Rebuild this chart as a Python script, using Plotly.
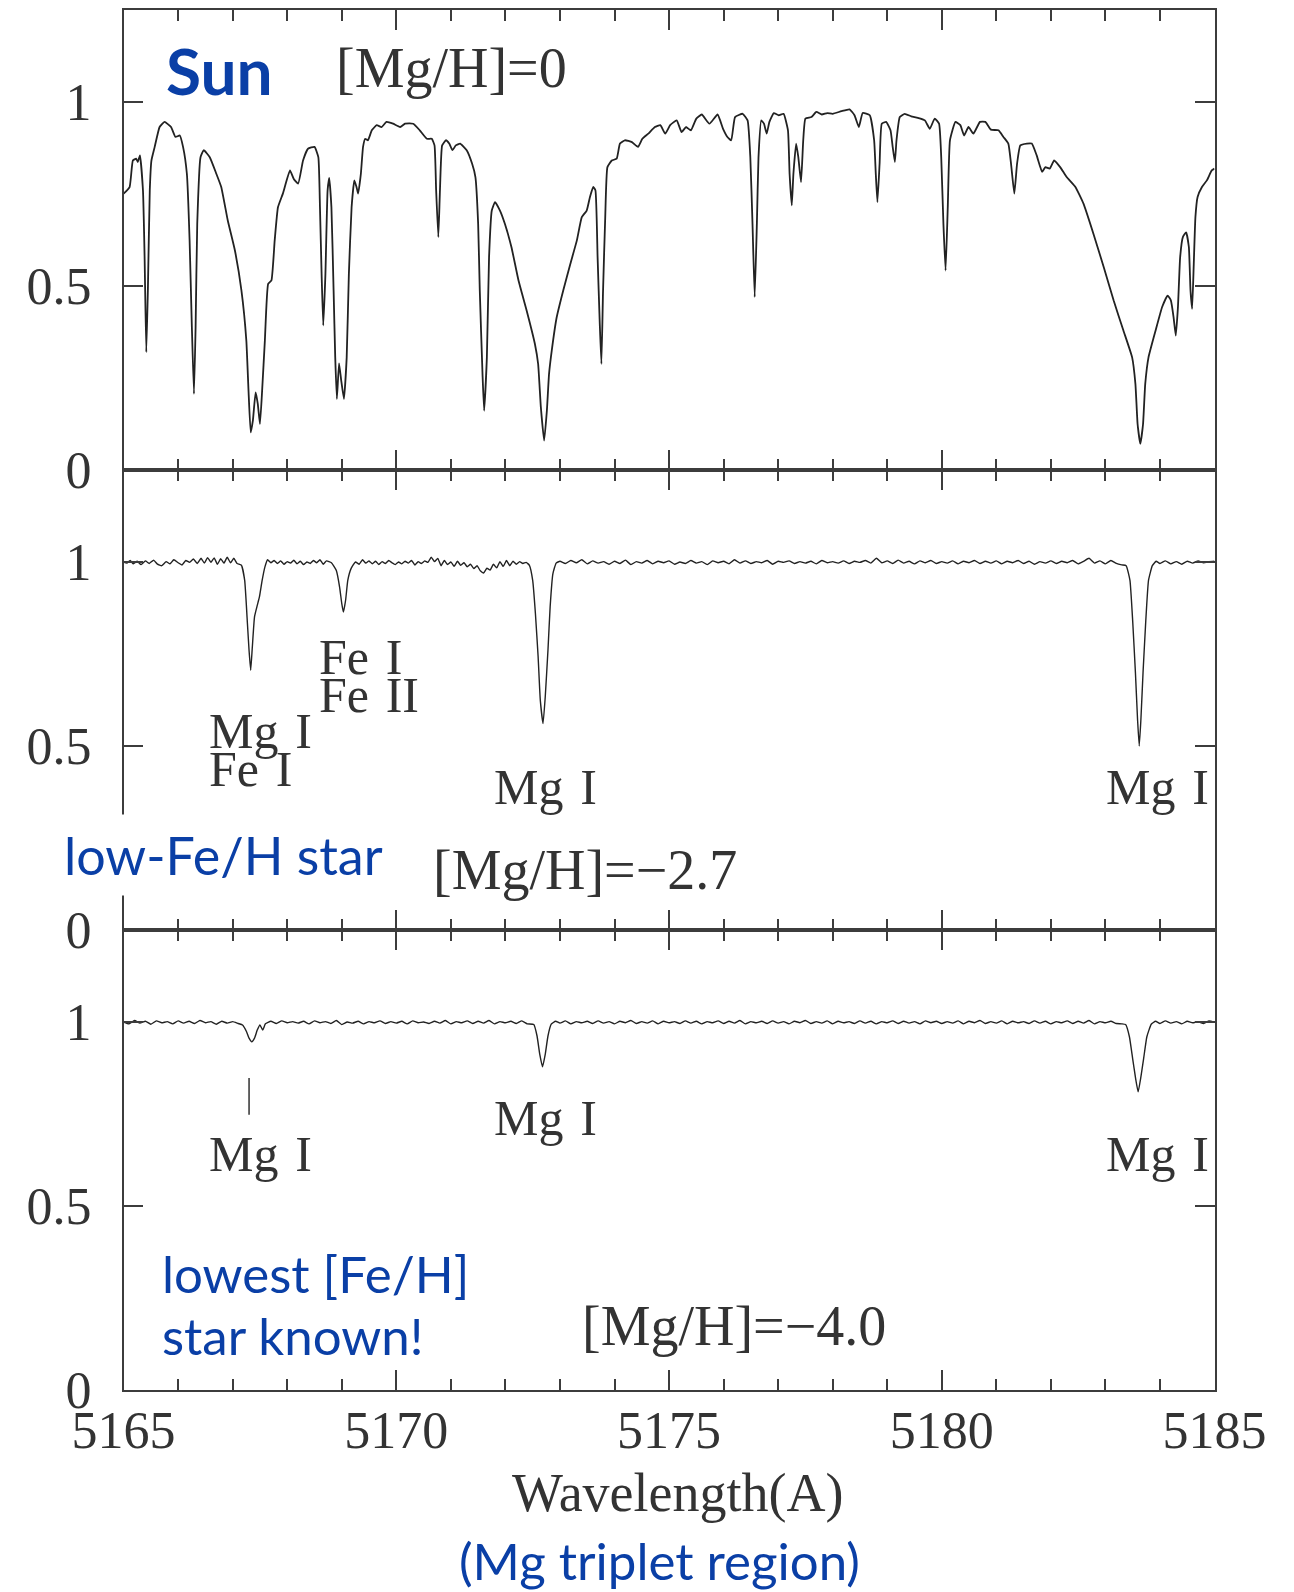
import plotly.graph_objects as go

W, H = 1294, 1592
BLUE = "#0a3fa6"
FRAME = "#3c3c3c"
INK = "#222222"
SERIF = "Liberation Serif"
SANS = "Lato"

# ---------------- data ----------------
sun_wl = [5165.00, 5165.11, 5165.17, 5165.23, 5165.26, 5165.30, 5165.355, 5165.385, 5165.416, 5165.445,
          5165.48, 5165.51, 5165.57, 5165.66, 5165.75, 5165.87, 5165.95, 5166.03, 5166.09, 5166.16,
          5166.21, 5166.25, 5166.29, 5166.32, 5166.35, 5166.41, 5166.47, 5166.58, 5166.70, 5166.79,
          5166.91, 5167.04, 5167.16, 5167.25, 5167.29, 5167.33, 5167.37, 5167.42, 5167.46, 5167.50,
          5167.54, 5167.59, 5167.65, 5167.71, 5167.77, 5167.83, 5167.92, 5168.05, 5168.12, 5168.20,
          5168.29, 5168.38, 5168.50, 5168.57, 5168.60, 5168.63, 5168.66, 5168.70, 5168.74, 5168.77,
          5168.81, 5168.85, 5168.88, 5168.91, 5168.95, 5168.99, 5169.04, 5169.09, 5169.13, 5169.18,
          5169.23, 5169.27, 5169.30, 5169.35, 5169.39, 5169.43, 5169.48, 5169.55, 5169.64, 5169.73,
          5169.82, 5169.94, 5170.07, 5170.16, 5170.31, 5170.43, 5170.56, 5170.65, 5170.70, 5170.73,
          5170.77, 5170.80, 5170.84, 5170.91, 5170.97, 5171.03, 5171.09, 5171.17, 5171.29, 5171.39,
          5171.45, 5171.50, 5171.53, 5171.58, 5171.61, 5171.66, 5171.70, 5171.75, 5171.81, 5171.90,
          5171.99, 5172.11, 5172.24, 5172.39, 5172.54, 5172.60, 5172.65, 5172.71, 5172.76, 5172.80,
          5172.85, 5172.94, 5173.06, 5173.19, 5173.31, 5173.40, 5173.49, 5173.55, 5173.61, 5173.65,
          5173.69, 5173.73, 5173.76, 5173.79, 5173.83, 5173.87, 5173.95, 5174.04, 5174.10, 5174.19,
          5174.32, 5174.43, 5174.51, 5174.62, 5174.74, 5174.84, 5174.93, 5175.02, 5175.14, 5175.23,
          5175.31, 5175.40, 5175.50, 5175.60, 5175.74, 5175.89, 5175.99, 5176.07, 5176.14, 5176.21,
          5176.35, 5176.44, 5176.49, 5176.53, 5176.57, 5176.61, 5176.64, 5176.69, 5176.74, 5176.79,
          5176.84, 5176.92, 5177.01, 5177.10, 5177.18, 5177.21, 5177.25, 5177.28, 5177.33, 5177.37,
          5177.42, 5177.46, 5177.50, 5177.61, 5177.70, 5177.80, 5177.90, 5178.00, 5178.16, 5178.31,
          5178.40, 5178.48, 5178.55, 5178.68, 5178.76, 5178.79, 5178.82, 5178.86, 5178.90, 5178.98,
          5179.06, 5179.10, 5179.14, 5179.17, 5179.23, 5179.32, 5179.44, 5179.56, 5179.69, 5179.78,
          5179.87, 5179.95, 5179.99, 5180.03, 5180.07, 5180.11, 5180.15, 5180.25, 5180.34, 5180.41,
          5180.49, 5180.58, 5180.70, 5180.80, 5180.90, 5181.04, 5181.13, 5181.22, 5181.27, 5181.33,
          5181.38, 5181.44, 5181.56, 5181.65, 5181.74, 5181.84, 5181.90, 5181.98, 5182.06, 5182.17,
          5182.29, 5182.45, 5182.60, 5182.78, 5182.97, 5183.15, 5183.33, 5183.49, 5183.55, 5183.59,
          5183.64, 5183.69, 5183.73, 5183.79, 5183.92, 5184.04, 5184.14, 5184.20, 5184.25, 5184.29,
          5184.33, 5184.37, 5184.42, 5184.48, 5184.53, 5184.56, 5184.59, 5184.62, 5184.65, 5184.69,
          5184.77, 5184.86, 5184.95, 5185.00]
sun_flux = [0.751, 0.769, 0.841, 0.846, 0.837, 0.855, 0.760, 0.579, 0.320, 0.488,
            0.760, 0.841, 0.878, 0.932, 0.946, 0.932, 0.905, 0.909, 0.878, 0.805,
            0.624, 0.397, 0.207, 0.388, 0.669, 0.850, 0.869, 0.850, 0.805, 0.769,
            0.678, 0.597, 0.488, 0.352, 0.216, 0.102, 0.134, 0.211, 0.180, 0.125,
            0.216, 0.352, 0.506, 0.515, 0.624, 0.714, 0.751, 0.814, 0.791, 0.778,
            0.841, 0.873, 0.878, 0.850, 0.714, 0.533, 0.393, 0.533, 0.760, 0.794,
            0.714, 0.488, 0.306, 0.193, 0.290, 0.243, 0.193, 0.306, 0.533, 0.714,
            0.787, 0.769, 0.751, 0.805, 0.878, 0.900, 0.896, 0.923, 0.937, 0.932,
            0.946, 0.941, 0.932, 0.941, 0.941, 0.923, 0.900, 0.900, 0.882, 0.760,
            0.633, 0.760, 0.882, 0.896, 0.887, 0.869, 0.882, 0.887, 0.869, 0.832,
            0.796, 0.669, 0.488, 0.261, 0.161, 0.306, 0.578, 0.705, 0.728, 0.705,
            0.669, 0.606, 0.515, 0.433, 0.343, 0.288, 0.170, 0.080, 0.161, 0.261,
            0.325, 0.415, 0.488, 0.560, 0.624, 0.687, 0.705, 0.742, 0.769, 0.760,
            0.578, 0.397, 0.288, 0.488, 0.687, 0.823, 0.841, 0.846, 0.887, 0.896,
            0.891, 0.878, 0.900, 0.914, 0.932, 0.937, 0.914, 0.937, 0.950, 0.918,
            0.932, 0.923, 0.955, 0.966, 0.941, 0.966, 0.927, 0.905, 0.896, 0.959,
            0.968, 0.950, 0.850, 0.669, 0.470, 0.669, 0.850, 0.950, 0.941, 0.914,
            0.946, 0.970, 0.964, 0.968, 0.923, 0.805, 0.719, 0.805, 0.887, 0.850,
            0.782, 0.896, 0.955, 0.959, 0.973, 0.966, 0.970, 0.968, 0.975, 0.980,
            0.964, 0.932, 0.970, 0.964, 0.896, 0.805, 0.728, 0.832, 0.941, 0.946,
            0.923, 0.878, 0.837, 0.896, 0.959, 0.968, 0.961, 0.957, 0.950, 0.927,
            0.955, 0.941, 0.850, 0.669, 0.542, 0.714, 0.896, 0.946, 0.937, 0.909,
            0.932, 0.914, 0.946, 0.946, 0.925, 0.923, 0.905, 0.887, 0.832, 0.751,
            0.832, 0.882, 0.887, 0.887, 0.855, 0.810, 0.823, 0.819, 0.841, 0.823,
            0.796, 0.769, 0.723, 0.642, 0.551, 0.461, 0.379, 0.306, 0.234, 0.125,
            0.071, 0.125, 0.234, 0.306, 0.379, 0.443, 0.474, 0.461, 0.415, 0.365,
            0.443, 0.578, 0.633, 0.646, 0.606, 0.488, 0.438, 0.560, 0.687, 0.742,
            0.769, 0.787, 0.814, 0.819]

mid_wl = [5165.00, 5165.06, 5165.12, 5165.18, 5165.25, 5165.32, 5165.40, 5165.47, 5165.55, 5165.62,
          5165.70, 5165.78, 5165.85, 5165.92, 5166.00, 5166.07, 5166.14, 5166.21, 5166.28, 5166.35,
          5166.42, 5166.48, 5166.54, 5166.60, 5166.66, 5166.72, 5166.78, 5166.84, 5166.90, 5166.96,
          5167.02, 5167.08, 5167.16, 5167.22, 5167.27, 5167.30, 5167.33, 5167.36, 5167.40, 5167.45,
          5167.49, 5167.54, 5167.59, 5167.64, 5167.70, 5167.76, 5167.82, 5167.88, 5167.94, 5168.00,
          5168.06, 5168.12, 5168.18, 5168.24, 5168.30, 5168.36, 5168.42, 5168.48, 5168.54, 5168.60,
          5168.66, 5168.72, 5168.81, 5168.90, 5168.96, 5169.00, 5169.03, 5169.07, 5169.11, 5169.17,
          5169.25, 5169.32, 5169.38, 5169.44, 5169.50, 5169.56, 5169.62, 5169.68, 5169.74, 5169.80,
          5169.86, 5169.92, 5169.98, 5170.04, 5170.10, 5170.16, 5170.22, 5170.28, 5170.34, 5170.40,
          5170.46, 5170.52, 5170.58, 5170.64, 5170.70, 5170.76, 5170.82, 5170.88, 5170.94, 5171.00,
          5171.06, 5171.12, 5171.18, 5171.24, 5171.30, 5171.36, 5171.42, 5171.48, 5171.54, 5171.60,
          5171.66, 5171.72, 5171.78, 5171.84, 5171.90, 5171.96, 5172.02, 5172.08, 5172.14, 5172.20,
          5172.26, 5172.32, 5172.38, 5172.44, 5172.50, 5172.55, 5172.60, 5172.64, 5172.69, 5172.73,
          5172.78, 5172.82, 5172.87, 5172.93, 5173.00, 5173.10, 5173.20, 5173.30, 5173.40, 5173.50,
          5173.60, 5173.70, 5173.80, 5173.90, 5174.00, 5174.10, 5174.20, 5174.30, 5174.40, 5174.50,
          5174.60, 5174.70, 5174.80, 5174.90, 5175.00, 5175.10, 5175.20, 5175.30, 5175.40, 5175.50,
          5175.60, 5175.70, 5175.80, 5175.90, 5176.00, 5176.10, 5176.20, 5176.30, 5176.40, 5176.50,
          5176.60, 5176.70, 5176.80, 5176.90, 5177.00, 5177.10, 5177.20, 5177.30, 5177.40, 5177.50,
          5177.60, 5177.70, 5177.80, 5177.90, 5178.00, 5178.10, 5178.20, 5178.30, 5178.40, 5178.50,
          5178.60, 5178.70, 5178.80, 5178.90, 5179.00, 5179.10, 5179.20, 5179.30, 5179.40, 5179.50,
          5179.60, 5179.70, 5179.80, 5179.90, 5180.00, 5180.10, 5180.20, 5180.30, 5180.40, 5180.50,
          5180.60, 5180.70, 5180.80, 5180.90, 5181.00, 5181.10, 5181.20, 5181.30, 5181.40, 5181.50,
          5181.60, 5181.70, 5181.80, 5181.90, 5182.00, 5182.10, 5182.20, 5182.30, 5182.40, 5182.50,
          5182.60, 5182.70, 5182.80, 5182.90, 5183.00, 5183.10, 5183.20, 5183.30, 5183.38, 5183.45,
          5183.50, 5183.55, 5183.59, 5183.62, 5183.65, 5183.69, 5183.74, 5183.79, 5183.86, 5183.93,
          5184.00, 5184.10, 5184.20, 5184.30, 5184.40, 5184.50, 5184.60, 5184.70, 5184.80, 5184.90,
          5185.00]
mid_flux = [1.000, 0.997, 1.004, 0.995, 1.002, 0.993, 1.003, 0.996, 1.005, 0.994,
            0.990, 1.001, 0.995, 1.006, 0.998, 0.992, 1.004, 0.999, 1.008, 0.996,
            1.010, 0.997, 1.012, 0.999, 1.011, 0.994, 1.009, 0.997, 1.013, 0.998,
            1.010, 0.996, 0.991, 0.950, 0.833, 0.760, 0.706, 0.769, 0.851, 0.882,
            0.905, 0.950, 0.986, 1.006, 0.998, 1.004, 0.996, 1.003, 0.994, 1.001,
            0.997, 1.005, 0.995, 1.002, 0.993, 1.000, 0.996, 1.004, 0.998, 1.006,
            0.994, 1.003, 0.998, 0.977, 0.932, 0.887, 0.864, 0.896, 0.950, 0.982,
            1.000, 0.994, 1.006, 0.997, 1.003, 0.995, 1.002, 0.993, 1.001, 0.996,
            1.004, 0.998, 0.993, 1.000, 0.995, 1.002, 0.997, 1.004, 0.992, 1.001,
            0.996, 1.003, 0.999, 1.013, 1.001, 1.010, 0.990, 1.004, 0.993, 1.000,
            0.988, 1.002, 0.991, 0.998, 0.987, 0.994, 0.982, 0.990, 0.976, 0.970,
            0.983, 0.978, 0.994, 0.984, 1.001, 0.988, 1.004, 0.990, 1.002, 0.994,
            1.001, 0.996, 0.999, 0.991, 0.950, 0.860, 0.742, 0.624, 0.561, 0.633,
            0.760, 0.878, 0.968, 0.997, 1.002, 0.996, 1.004, 0.998, 1.006, 0.995,
            1.003, 0.997, 1.001, 0.994, 1.002, 0.996, 1.005, 0.993, 1.001, 0.997,
            1.004, 0.995, 1.002, 0.998, 1.003, 0.994, 1.000, 0.996, 1.004, 0.997,
            1.001, 0.993, 1.003, 0.998, 1.002, 0.995, 1.006, 0.997, 1.003, 0.996,
            1.001, 0.998, 1.004, 0.994, 1.002, 0.999, 1.003, 0.996, 1.001, 0.997,
            1.002, 0.995, 1.004, 0.998, 1.001, 0.997, 1.003, 0.996, 1.002, 0.999,
            1.004, 0.997, 1.010, 0.998, 1.003, 0.996, 1.005, 0.997, 1.002, 0.995,
            1.003, 0.998, 1.004, 0.996, 1.001, 0.997, 1.003, 0.995, 1.002, 0.998,
            1.004, 0.996, 1.002, 0.997, 1.003, 0.995, 1.002, 0.998, 1.004, 0.996,
            1.002, 0.994, 1.001, 0.997, 1.003, 0.996, 1.002, 0.998, 1.004, 0.995,
            1.002, 1.010, 0.997, 1.003, 0.995, 1.004, 0.996, 0.992, 0.990, 0.950,
            0.840, 0.700, 0.570, 0.500, 0.570, 0.700, 0.840, 0.950, 0.990, 1.002,
            0.996, 1.003, 0.995, 1.001, 0.994, 1.002, 0.997, 1.003, 0.998, 1.001,
            1.002]

low_wl = [5165.00, 5165.10, 5165.20, 5165.30, 5165.40, 5165.50, 5165.60, 5165.70, 5165.80, 5165.90,
          5166.00, 5166.10, 5166.20, 5166.30, 5166.40, 5166.50, 5166.60, 5166.70, 5166.80, 5166.90,
          5167.00, 5167.10, 5167.18, 5167.25, 5167.30, 5167.35, 5167.40, 5167.45, 5167.50, 5167.55,
          5167.60, 5167.70, 5167.80, 5167.90, 5168.00, 5168.10, 5168.20, 5168.30, 5168.40, 5168.50,
          5168.60, 5168.70, 5168.80, 5168.90, 5169.00, 5169.10, 5169.20, 5169.30, 5169.40, 5169.50,
          5169.60, 5169.70, 5169.80, 5169.90, 5170.00, 5170.10, 5170.20, 5170.30, 5170.40, 5170.50,
          5170.60, 5170.70, 5170.80, 5170.90, 5171.00, 5171.10, 5171.20, 5171.30, 5171.40, 5171.50,
          5171.60, 5171.70, 5171.80, 5171.90, 5172.00, 5172.10, 5172.20, 5172.30, 5172.40, 5172.52,
          5172.58, 5172.63, 5172.68, 5172.73, 5172.78, 5172.84, 5172.92, 5173.00, 5173.10, 5173.20,
          5173.30, 5173.40, 5173.50, 5173.60, 5173.70, 5173.80, 5173.90, 5174.00, 5174.10, 5174.20,
          5174.30, 5174.40, 5174.50, 5174.60, 5174.70, 5174.80, 5174.90, 5175.00, 5175.10, 5175.20,
          5175.30, 5175.40, 5175.50, 5175.60, 5175.70, 5175.80, 5175.90, 5176.00, 5176.10, 5176.20,
          5176.30, 5176.40, 5176.50, 5176.60, 5176.70, 5176.80, 5176.90, 5177.00, 5177.10, 5177.20,
          5177.30, 5177.40, 5177.50, 5177.60, 5177.70, 5177.80, 5177.90, 5178.00, 5178.10, 5178.20,
          5178.30, 5178.40, 5178.50, 5178.60, 5178.70, 5178.80, 5178.90, 5179.00, 5179.10, 5179.20,
          5179.30, 5179.40, 5179.50, 5179.60, 5179.70, 5179.80, 5179.90, 5180.00, 5180.10, 5180.20,
          5180.30, 5180.40, 5180.50, 5180.60, 5180.70, 5180.80, 5180.90, 5181.00, 5181.10, 5181.20,
          5181.30, 5181.40, 5181.50, 5181.60, 5181.70, 5181.80, 5181.90, 5182.00, 5182.10, 5182.20,
          5182.30, 5182.40, 5182.50, 5182.60, 5182.70, 5182.80, 5182.90, 5183.00, 5183.10, 5183.20,
          5183.30, 5183.37, 5183.44, 5183.50, 5183.55, 5183.60, 5183.65, 5183.70, 5183.76, 5183.84,
          5183.92, 5184.00, 5184.10, 5184.20, 5184.30, 5184.40, 5184.50, 5184.60, 5184.70, 5184.80,
          5184.90, 5185.00]
low_flux = [1.000, 0.995, 1.004, 0.997, 1.002, 0.994, 1.003, 0.998, 1.001, 0.995,
            1.003, 0.997, 1.002, 0.996, 1.004, 0.998, 1.001, 0.994, 1.002, 0.997,
            1.001, 0.996, 0.992, 0.975, 0.956, 0.946, 0.956, 0.978, 0.992, 0.978,
            0.995, 1.002, 0.996, 1.003, 0.998, 1.001, 0.997, 1.002, 0.995, 1.003,
            0.998, 1.001, 0.996, 1.004, 0.993, 1.000, 0.997, 1.002, 0.995, 1.001,
            0.998, 1.003, 0.996, 1.001, 0.997, 1.002, 0.995, 1.003, 0.998, 1.000,
            0.996, 1.002, 0.997, 1.004, 0.995, 1.001, 0.998, 1.003, 0.996, 1.002,
            0.997, 1.004, 0.995, 1.001, 0.998, 1.002, 0.996, 1.003, 0.995, 0.993,
            0.962, 0.912, 0.878, 0.912, 0.962, 0.994, 1.002, 0.997, 1.003, 0.995,
            1.001, 0.998, 1.002, 0.996, 1.003, 0.997, 1.001, 0.995, 1.002, 0.998,
            1.004, 0.996, 1.001, 0.997, 1.003, 0.995, 1.002, 0.998, 1.001, 0.996,
            1.003, 0.997, 1.002, 0.995, 1.001, 0.998, 1.003, 0.996, 1.002, 0.997,
            1.004, 0.995, 1.001, 0.998, 1.002, 0.996, 1.003, 0.997, 1.001, 0.995,
            1.002, 0.998, 1.004, 0.996, 1.001, 0.997, 1.003, 0.995, 1.002, 0.998,
            1.001, 0.996, 1.003, 0.997, 1.002, 0.995, 1.001, 0.998, 1.003, 0.996,
            1.002, 0.997, 1.001, 0.995, 1.003, 0.998, 1.002, 0.996, 1.001, 0.997,
            1.003, 0.995, 1.002, 0.998, 1.004, 0.996, 1.001, 0.997, 1.003, 0.995,
            1.002, 0.998, 1.001, 0.996, 1.003, 0.997, 1.002, 0.995, 1.001, 0.998,
            1.003, 0.996, 1.002, 0.997, 1.004, 0.995, 1.001, 0.998, 1.002, 0.996,
            0.995, 0.993, 0.960, 0.900, 0.850, 0.810, 0.850, 0.900, 0.960, 0.994,
            1.002, 0.996, 1.003, 0.997, 1.001, 0.995, 1.002, 0.998, 1.001, 0.996,
            1.003, 1.000]

tick_mark_wl = [5167.30, 5167.30]
tick_mark_flux = [0.848, 0.748]

x_ticks_start = 5165
x_major_step = 5
x_minor_step = 1
y_tickvals = [0, 0.5, 1]
y_ticktext = ["0", "0.5", "1"]

# ---------------- layout helpers ----------------
def px(x):
    return x / W

def py(y):
    return 1 - y / H

xdom = [px(123.6), px(1214.5)]
ydoms = [[py(470), py(10)], [py(930), py(470)], [py(1390), py(930)]]

fig = go.Figure()
series = [(sun_wl, sun_flux, 1.8), (mid_wl, mid_flux, 1.4), (low_wl, low_flux, 1.4)]
for i, (xw, yf, lw) in enumerate(series):
    suf = "" if i == 0 else str(i + 1)
    fig.add_trace(go.Scatter(x=xw, y=yf, mode="lines",
                             line=dict(color=INK, width=lw, shape="spline", smoothing=0.4),
                             xaxis="x" + suf, yaxis="y" + suf, showlegend=False, hoverinfo="skip"))
fig.add_trace(go.Scatter(x=tick_mark_wl, y=tick_mark_flux, mode="lines",
                         line=dict(color=INK, width=1.4), xaxis="x3", yaxis="y3",
                         showlegend=False, hoverinfo="skip"))

tickfont = dict(family=SERIF, size=52, color="#333333")
for i in range(3):
    suf = "" if i == 0 else str(i + 1)
    fig.layout["xaxis" + suf] = dict(
        domain=xdom, range=[5165, 5185], anchor="y" + suf, automargin=False,
        tickmode="linear", tick0=x_ticks_start, dtick=x_major_step,
        ticks="inside", ticklen=20, tickwidth=1.5, tickcolor=FRAME,
        minor=dict(tickmode="linear", tick0=x_ticks_start, dtick=x_minor_step,
                   ticks="inside", ticklen=11, tickwidth=1.5, tickcolor=FRAME, showgrid=False),
        showline=True, linecolor=FRAME, linewidth=1.6, mirror="ticks",
        showgrid=False, zeroline=False, showticklabels=(i == 2),
        tickfont=tickfont, ticklabelstandoff=-6)
    fig.layout["yaxis" + suf] = dict(
        domain=ydoms[i], range=[0, 1.25], anchor="x" + suf, automargin=False,
        tickmode="array", tickvals=y_tickvals, ticktext=y_ticktext,
        ticks="inside", ticklen=20, tickwidth=1.5, tickcolor=FRAME,
        showline=True, linecolor=FRAME, linewidth=1.6, mirror="ticks",
        showgrid=False, zeroline=False, tickfont=tickfont, ticklabelstandoff=20)

ann = []
def label(text, x, y, size=50, family=SERIF, color="#333333", xanchor="left", **kw):
    ann.append(dict(text=text, x=px(x), y=py(y), xref="paper", yref="paper",
                    xanchor=xanchor, yanchor="middle", showarrow=False,
                    font=dict(family=family, size=size, color=color), **kw))

SP = "\u2004"
label("<b>Sun</b>", 164, 71, size=64, family=SANS, color=BLUE)
label("[Mg/H]=0", 334, 68, size=56)
label("Fe" + SP + "I", 317, 657)
label("Fe" + SP + "II", 317, 695)
label("Mg" + SP + "I", 207, 731)
label("Fe" + SP + "I", 207, 769)
label("Mg" + SP + "I", 492, 787)
label("Mg" + SP + "I", 1211, 787, xanchor="right")
label("low-Fe/H star", 223, 855, size=52, family=SANS, color=BLUE, xanchor="center",
      bgcolor="white", borderpad=9)
label("[Mg/H]=\u22122.7", 431, 870, size=56)
label("Mg" + SP + "I", 207, 1154)
label("Mg" + SP + "I", 492, 1118)
label("Mg" + SP + "I", 1211, 1154, xanchor="right")
label("lowest [Fe/H]", 160, 1273, size=51, family=SANS, color=BLUE)
label("star known!", 160, 1335, size=51, family=SANS, color=BLUE)
label("[Mg/H]=\u22124.0", 580, 1326, size=56)
label("Wavelength(A)", 678, 1493, size=54, xanchor="center")
label("(Mg triplet region)", 660, 1560, size=51, family=SANS, color=BLUE, xanchor="center")

fig.update_layout(width=W, height=H, margin=dict(l=0, r=0, t=0, b=0, autoexpand=False),
                  paper_bgcolor="white", plot_bgcolor="white", annotations=ann,
                  showlegend=False)
fig.write_html("out.html")
